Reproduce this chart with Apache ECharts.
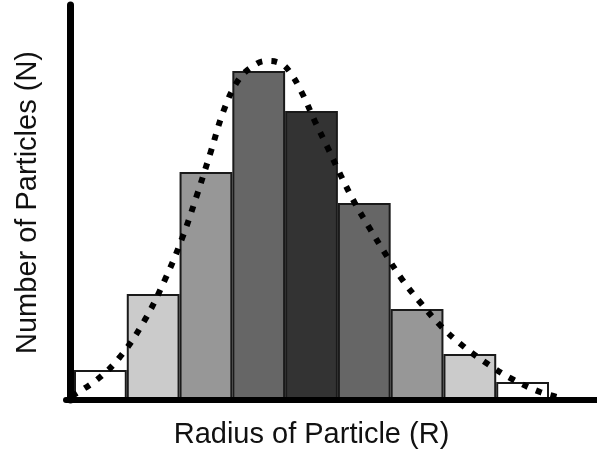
<!DOCTYPE html>
<html>
<head>
<meta charset="utf-8">
<script src="https://cdn.jsdelivr.net/npm/echarts@6/dist/echarts.min.js"></script>
<style>
html,body{margin:0;padding:0;background:#fff;}
#chart{width:597px;height:451px;}
</style>
</head>
<body>
<div id="chart"></div>
<script>
// Histogram bins (radius classes) and particle counts (arbitrary units)
const categories = ['b1','b2','b3','b4','b5','b6','b7','b8','b9'];
const counts = [30, 106, 228, 329, 289, 197, 91, 46, 18];
const barColors = ['#ffffff','#cbcbcb','#979797','#666666','#333333','#666666','#979797','#cbcbcb','#ffffff'];

// Fitted distribution curve: x in bin units (0 = left edge of first bin), y in count units
const curveX = [-0.04, 0.45, 0.87, 1.33, 1.72, 2.05, 2.33, 2.59, 2.84, 3.09, 3.34, 3.64, 3.90, 4.09, 4.32, 4.57, 4.81, 5.06, 5.32, 5.61, 5.89, 6.21, 6.57, 6.95, 7.37, 7.84, 8.30, 8.83, 9.24];
const curveY = [4, 21, 43, 79, 120, 162, 205, 248, 290, 318, 332, 339, 337, 328, 307, 278, 252, 224, 197, 171, 147, 121, 97, 74, 54, 36, 21, 8, 2];

const yMax = 395;

const chart = echarts.init(document.getElementById('chart'), null, {renderer: 'canvas'});
const fontFamily = '"Liberation Sans", Arial, Helvetica, sans-serif';

chart.setOption({
  animation: false,
  backgroundColor: '#ffffff',
  grid: [
    {left: 74, right: 48, top: 5, bottom: 51, containLabel: false, outerBoundsMode: 'none'},
    {left: 66, right: 0, top: 5, bottom: 51, containLabel: false, outerBoundsMode: 'none'}
  ],
  xAxis: [
    {
      type: 'category', gridIndex: 0, data: categories, boundaryGap: true,
      axisLine: {show: false}, axisTick: {show: false}, axisLabel: {show: false}, splitLine: {show: false},
      name: 'Radius of Particle (R)', nameLocation: 'middle', nameGap: 35,
      nameTextStyle: {fontFamily: fontFamily, fontSize: 29, color: '#111', verticalAlign: 'middle'}
    },
    {
      type: 'value', gridIndex: 1, min: -0.1516, max: 9.909,
      axisLine: {show: true, lineStyle: {color: '#000', width: 6}}, z: 10,
      axisTick: {show: false}, axisLabel: {show: false}, splitLine: {show: false}
    }
  ],
  yAxis: [
    {
      type: 'value', gridIndex: 0, min: 0, max: yMax, offset: 4, z: 10,
      axisLine: {show: true, lineStyle: {color: '#000', width: 7}},
      axisTick: {show: false}, axisLabel: {show: false}, splitLine: {show: false},
      name: 'Number of Particles (N)', nameLocation: 'middle', nameGap: 42,
      nameTextStyle: {fontFamily: fontFamily, fontSize: 29, color: '#111', verticalAlign: 'middle'}
    },
    {
      type: 'value', gridIndex: 1, min: 0, max: yMax, show: false
    }
  ],
  series: [
    {
      type: 'bar', xAxisIndex: 0, yAxisIndex: 0,
      barWidth: '100%', barCategoryGap: 0,
      data: counts.map((v, i) => ({value: v, itemStyle: {color: barColors[i]}})),
      itemStyle: {borderColor: '#1a1a1a', borderWidth: 2},
      z: 2
    },
    {
      type: 'line', xAxisIndex: 1, yAxisIndex: 1,
      data: curveX.map((x, i) => [x, curveY[i]]),
      smooth: 0.4, showSymbol: false, symbol: 'none', clip: false,
      lineStyle: {color: '#000', width: 6, type: [6, 9], cap: 'butt'},
      z: 5
    }
  ]
});
</script>
</body>
</html>
